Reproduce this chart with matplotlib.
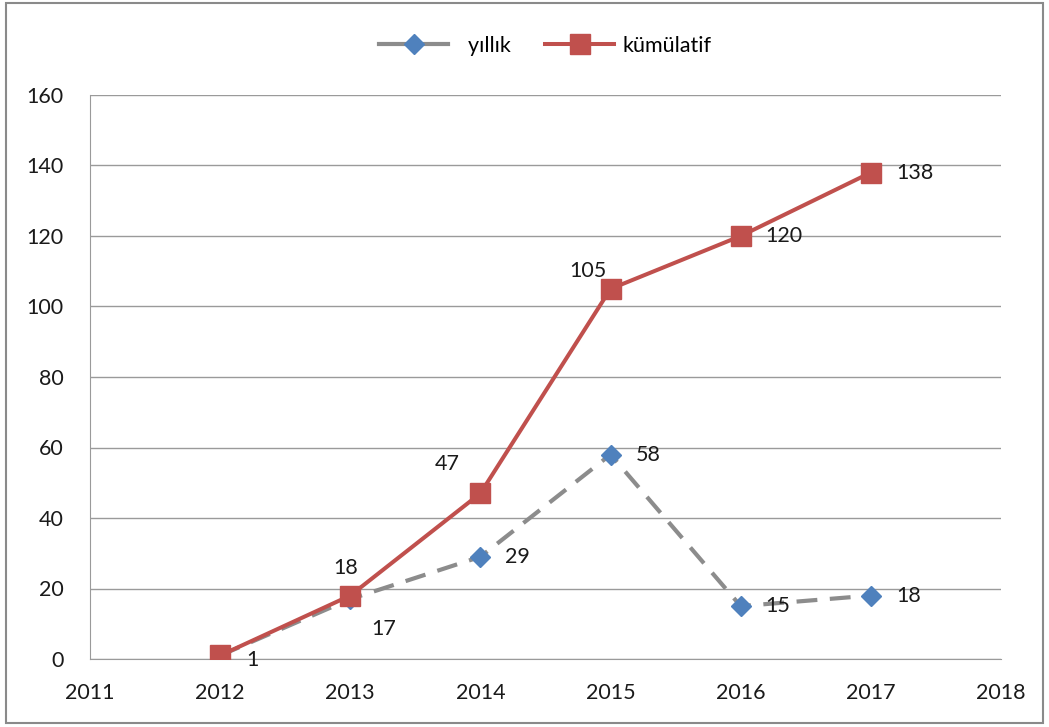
import matplotlib
matplotlib.use("Agg")
import matplotlib.pyplot as plt
from matplotlib.patches import Rectangle
from matplotlib.lines import Line2D

# data
yillar = [2012, 2013, 2014, 2015, 2016, 2017]
yillik = [1, 17, 29, 58, 15, 18]
kumulatif = [1, 18, 47, 105, 120, 138]

plt.rcParams['font.family'] = ['Lato', 'DejaVu Sans']
fs = 15.5

fig = plt.figure(figsize=(10.49, 7.27), dpi=100)
ax = fig.add_axes([90 / 1049, 1 - 659 / 727, 911 / 1049, 564 / 727])

# frame around whole chart
fig.patches.append(Rectangle((6 / 1049, 4 / 727), 1037 / 1049, 720 / 727,
                             transform=fig.transFigure, fill=False,
                             edgecolor='#8a8a8a', linewidth=1.5))

ax.plot(yillar, yillik, color='#8c8c8c', lw=3, dashes=(5, 3),
        marker='D', markersize=10, markerfacecolor='#4f81bd',
        markeredgecolor='#4f81bd', zorder=3)
ax.plot(yillar, kumulatif, color='#c0504d', lw=2.9, marker='s',
        markersize=14, markerfacecolor='#c0504d', markeredgecolor='#c0504d',
        zorder=4)

# data labels (offsets in points)
offs_y = {2013: (24, -21.5, 'center'), 2014: (18, 0, 'left'), 2015: (18, 0, 'left'),
          2016: (18, 0, 'left'), 2017: (18, 0, 'left')}
for x, y in zip(yillar, yillik):
    if x not in offs_y:
        continue
    dx, dy, ha = offs_y[x]
    ax.annotate(str(y), (x, y), xytext=(dx, dy), textcoords='offset points',
                ha=ha, va='center', fontsize=fs, color='#1a1a1a')

offs_k = {2012: (19, -3, 'left'), 2013: (-3.5, 20, 'center'), 2014: (-24, 21, 'center'),
          2015: (-16, 13, 'center'), 2016: (18, 0, 'left'), 2017: (18, 0, 'left')}
for x, y in zip(yillar, kumulatif):
    dx, dy, ha = offs_k[x]
    ax.annotate(str(y), (x, y), xytext=(dx, dy), textcoords='offset points',
                ha=ha, va='center', fontsize=fs, color='#1a1a1a')

ax.set_xlim(2011, 2018)
ax.set_ylim(0, 160)
ax.set_xticks(range(2011, 2019))
ax.set_yticks(range(0, 161, 20))
ax.tick_params(axis='both', length=0, labelsize=fs, colors='#1a1a1a')
ax.tick_params(axis='x', pad=17)
ax.tick_params(axis='y', pad=19)
ax.grid(axis='y', color='#9a9a9a', lw=1)
ax.set_axisbelow(True)
for s in ['top', 'right']:
    ax.spines[s].set_visible(False)
for s in ['left', 'bottom']:
    ax.spines[s].set_color('#9a9a9a')

h1 = Line2D([], [], color='#8c8c8c', lw=3, marker='D', markersize=10,
            markerfacecolor='#4f81bd', markeredgecolor='#4f81bd')
h2 = Line2D([], [], color='#c0504d', lw=2.9, marker='s', markersize=14,
            markerfacecolor='#c0504d', markeredgecolor='#c0504d')
ax.legend([h1, h2], ['  yıllık', 'kümülatif'], loc='lower center',
          bbox_to_anchor=(0.5, 1.035), ncol=2, frameon=False,
          fontsize=fs, handlelength=3.2, handletextpad=0.4, columnspacing=1.6)

fig.savefig('out.png', dpi=100)
